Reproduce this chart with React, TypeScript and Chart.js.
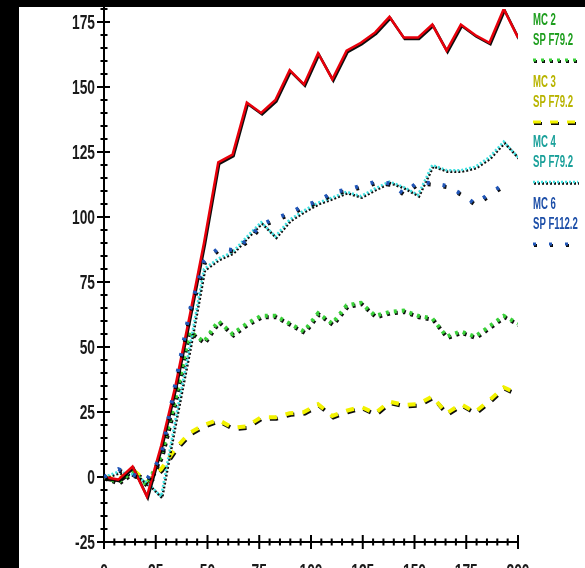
import React, { useEffect, useRef } from 'react';
import { Chart, registerables } from 'chart.js';

Chart.register(...registerables);

// ---- data ----
const xValues = [0, 6.9, 13.8, 20.7, 27.6, 34.5, 41.4, 48.3, 55.2, 62.1, 69, 75.9, 82.8, 89.7, 96.6, 103.4, 110.3, 117.2, 124.1, 131, 137.9, 144.8, 151.7, 158.6, 165.5, 172.4, 179.3, 186.2, 193.1, 200];
const redValues = [0, -1, 4, -7.5, 12, 35, 62, 90, 121, 124, 144, 140, 145, 156.5, 151, 163, 153, 164, 167, 171, 177, 169, 169, 174, 164, 174, 170, 167, 180, 169];
const mc2Values = [0, -2, 2, -3, 8, 30, 56, 52, 60, 55, 59, 62, 62, 59, 56, 63, 59, 66, 67, 62, 63.5, 64, 62, 61, 54, 56, 54, 58, 62, 59];
const mc3Values = [0, -1, 3, -2, 3, 11, 17, 20, 22, 19, 19.5, 23, 23, 24.5, 25, 28, 23.5, 25.5, 27, 24.5, 29, 27.7, 28, 31, 24.5, 28, 25, 29.5, 34.5, 32];
const mc4Values = [0, 2, 1, -2, -7.5, 22, 50, 80, 84, 86.5, 92.4, 98, 92.5, 99, 102.5, 105.5, 107.5, 109.7, 108, 111, 113.6, 111.5, 108.5, 120, 118, 118, 119.3, 123, 129, 123];
const mc6Values = [0, 3, 1, -1, 8, 36, 64, 83, 88, 87.3, 91, 97, 99.5, 101.5, 104.5, 106, 109.5, 110.5, 112, 113.5, 113, 109, 113.5, 113, 112, 109, 105, 109, 112.5, null];

const yTickValues = [-25, 0, 25, 50, 75, 100, 125, 150, 175];
const xTickValues = [0, 25, 50, 75, 100, 125, 150, 175, 200];

const legendTitles = ['MC 2', 'MC 3', 'MC 4', 'MC 6'];
const legendSubtitles = ['SP F79.2', 'SP F79.2', 'SP F79.2', 'SP F112.2'];

// ---- styles ----
const FONT_FAMILY = '"Liberation Sans", Arial, sans-serif';

const seriesStyles = {
  red: { color: '#e8000b', width: 2.5, dash: [] as number[] },
  mc2: { color: '#3ad13a', width: 4, dash: [3, 5] },
  mc3: { color: '#f2f200', width: 4, dash: [8, 9] },
  mc4: { color: '#3fe0e0', width: 2.5, dash: [2, 2] },
  mc6: { color: '#2156b8', width: 4, dash: [3, 13] },
};

const legendTextColors = ['#1e9e1e', '#b8b400', '#1aa09a', '#1d4fa8'];
const legendStyleKeys = ['mc2', 'mc3', 'mc4', 'mc6'] as const;

function toPoints(vals: (number | null)[]) {
  return vals.map((v, i) => ({ x: xValues[i], y: v }));
}

function narrowText(ctx: CanvasRenderingContext2D, text: string, x: number, y: number, align: CanvasTextAlign, baseline: CanvasTextBaseline, sx: number) {
  ctx.save();
  ctx.translate(x, y);
  ctx.scale(sx, 1);
  ctx.textAlign = align;
  ctx.textBaseline = baseline;
  ctx.fillText(text, 0, 0);
  ctx.restore();
}

const shadowPlugin = {
  id: 'lineShadow',
  beforeDatasetDraw(chart: any) {
    const ctx = chart.ctx;
    ctx.save();
    ctx.shadowColor = 'rgba(0,0,0,0.95)';
    ctx.shadowOffsetX = 1;
    ctx.shadowOffsetY = 1.5;
    ctx.shadowBlur = 0.5;
  },
  afterDatasetDraw(chart: any) {
    chart.ctx.restore();
  },
};

const axesPlugin = {
  id: 'crossAxes',
  beforeDatasetsDraw(chart: any) {
    const { ctx } = chart;
    const xs = chart.scales.x;
    const ys = chart.scales.y;
    const x0 = xs.getPixelForValue(0);
    const x1 = xs.getPixelForValue(200);
    const yb = ys.getPixelForValue(-25);
    const yt = ys.getPixelForValue(180);
    ctx.save();
    ctx.strokeStyle = '#000';
    ctx.lineWidth = 2;
    ctx.beginPath();
    ctx.moveTo(x0, yt - 2);
    ctx.lineTo(x0, yb);
    ctx.lineTo(x1, yb);
    ctx.stroke();
    ctx.beginPath();
    for (let v = -25; v <= 180; v += 5) {
      const py = ys.getPixelForValue(v);
      const major = v % 25 === 0;
      ctx.moveTo(x0 - (major ? 7 : 3.5), py);
      ctx.lineTo(x0 + (major ? 6 : 3.5), py);
    }
    for (let v = 0; v <= 200; v += 5) {
      const px = xs.getPixelForValue(v);
      const major = v % 25 === 0;
      ctx.moveTo(px, yb - (major ? 7 : 3.5));
      ctx.lineTo(px, yb + (major ? 7 : 3.5));
    }
    ctx.stroke();

    // tick labels
    ctx.fillStyle = '#1a1a1a';
    ctx.font = `bold 20px ${FONT_FAMILY}`;
    for (const v of yTickValues) {
      narrowText(ctx, String(v), x0 - 9, ys.getPixelForValue(v) + 1, 'right', 'middle', 0.69);
    }
    for (const v of xTickValues) {
      narrowText(ctx, String(v), xs.getPixelForValue(v), 555, 'center', 'top', 0.69);
    }
    ctx.restore();
  },
};

const legendPlugin = {
  id: 'sideLegend',
  afterDraw(chart: any) {
    const { ctx } = chart;
    const lx = 514;
    const groupY = [14, 76, 136, 198];
    ctx.save();
    ctx.font = `bold 16px ${FONT_FAMILY}`;
    for (let i = 0; i < legendTitles.length; i++) {
      const gy = groupY[i];
      ctx.fillStyle = legendTextColors[i];
      narrowText(ctx, legendTitles[i], lx, gy, 'left', 'middle', 0.6);
      narrowText(ctx, legendSubtitles[i], lx, gy + 20, 'left', 'middle', 0.6);
      const st = seriesStyles[legendStyleKeys[i]];
      ctx.save();
      ctx.shadowColor = 'rgba(0,0,0,0.95)';
      ctx.shadowOffsetX = 1;
      ctx.shadowOffsetY = 1.5;
      ctx.strokeStyle = st.color;
      ctx.lineWidth = Math.min(st.width, 3);
      ctx.setLineDash(st.dash);
      ctx.beginPath();
      ctx.moveTo(lx, gy + 39);
      ctx.lineTo(lx + 45, gy + 39);
      ctx.stroke();
      ctx.restore();
    }
    ctx.restore();
  },
};

export default function App() {
  const canvasRef = useRef<HTMLCanvasElement | null>(null);

  useEffect(() => {
    const canvas = canvasRef.current;
    if (!canvas) return;
    const mk = (label: string, vals: (number | null)[], key: keyof typeof seriesStyles) => ({
      label,
      data: toPoints(vals),
      borderColor: seriesStyles[key].color,
      backgroundColor: seriesStyles[key].color,
      borderWidth: seriesStyles[key].width,
      borderDash: seriesStyles[key].dash,
      pointRadius: 0,
      tension: 0,
      fill: false,
      spanGaps: false,
    });
    const chart = new Chart(canvas, {
      type: 'line',
      data: {
        datasets: [
          mk('MC 6 SP F112.2', mc6Values, 'mc6'),
          mk('', redValues, 'red'),
          mk('MC 4 SP F79.2', mc4Values, 'mc4'),
          mk('MC 2 SP F79.2', mc2Values, 'mc2'),
          mk('MC 3 SP F79.2', mc3Values, 'mc3'),
        ],
      },
      options: {
        animation: false,
        responsive: false,
        maintainAspectRatio: false,
        devicePixelRatio: 1,
        layout: { padding: { left: 0, right: 67, top: 2, bottom: 0 } },
        plugins: { legend: { display: false }, tooltip: { enabled: false } },
        scales: {
          x: {
            type: 'linear',
            min: 0,
            max: 200,
            grid: { display: false, drawTicks: false },
            border: { display: false },
            afterBuildTicks: (scale: any) => {
              scale.ticks = xTickValues.map((v) => ({ value: v }));
            },
            afterFit: (scale: any) => {
              scale.height = 65;
            },
            ticks: { display: false },
          },
          y: {
            type: 'linear',
            min: -25,
            max: 180,
            grid: { display: false, drawTicks: false },
            border: { display: false },
            afterBuildTicks: (scale: any) => {
              scale.ticks = yTickValues.map((v) => ({ value: v }));
            },
            afterFit: (scale: any) => {
              scale.width = 85;
            },
            ticks: { display: false },
          },
        },
      } as any,
      plugins: [axesPlugin, shadowPlugin, legendPlugin],
    });
    return () => chart.destroy();
  }, []);

  return (
    <div style={{ position: 'fixed', left: 0, top: 0, width: 585, height: 568, background: '#000', overflow: 'hidden' }}>
      <div style={{ position: 'absolute', left: 19, top: 7, width: 566, height: 561, background: '#fff', overflow: 'hidden' }}>
        <canvas ref={canvasRef} width={566} height={600} style={{ display: 'block', width: 566, height: 600 }} />
      </div>
    </div>
  );
}
